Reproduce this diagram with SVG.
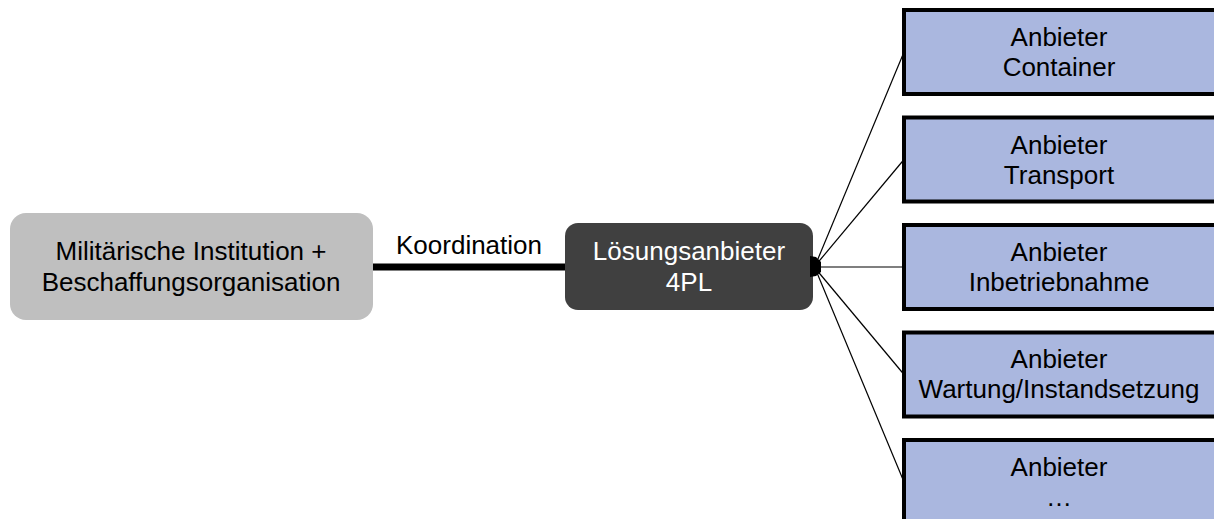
<svg xmlns="http://www.w3.org/2000/svg" width="1214" height="519" viewBox="0 0 1214 519">
<style>
text{font-family:"Liberation Sans",Arial,sans-serif;font-size:26px;text-anchor:middle;fill:#000}
.prov{fill:#AAB7DF;stroke:#000;stroke-width:4}
.fan{stroke:#000;stroke-width:1.2;fill:none}
</style>
<rect width="1214" height="519" fill="#fff"/>
<g id="connectors">
<line x1="373" y1="267" x2="566" y2="267" stroke="#000" stroke-width="7"/>
<text x="469" y="254">Koordination</text>
<line class="fan" x1="815" y1="266" x2="904" y2="52"/>
<line class="fan" x1="815" y1="266" x2="904" y2="159.5"/>
<line class="fan" x1="815" y1="267" x2="904" y2="267"/>
<line class="fan" x1="815" y1="268" x2="904" y2="374.5"/>
<line class="fan" x1="815" y1="268" x2="904" y2="482"/>
</g>
<g id="mil">
<rect x="10" y="213" width="363" height="107" rx="16" fill="#BFBFBF"/>
<text x="191" y="260">Militärische Institution +</text>
<text x="191" y="291">Beschaffungsorganisation</text>
</g>
<g id="lsp">
<rect x="565" y="223" width="248" height="87" rx="13" fill="#404040"/>
<text x="689" y="260" fill="#fff" style="fill:#fff">Lösungsanbieter</text>
<text x="689" y="291" style="fill:#fff">4PL</text>
<path d="M810,256 L816,257 L821,262 L821,272 L816,276 L810,277 Z" fill="#000"/>
</g>
<g id="p1">
<rect class="prov" x="904" y="10" width="330" height="84"/>
<text x="1059" y="46">Anbieter</text>
<text x="1059" y="76">Container</text>
</g>
<g id="p2">
<rect class="prov" x="904" y="117.5" width="330" height="84"/>
<text x="1059" y="153.5">Anbieter</text>
<text x="1059" y="183.5">Transport</text>
</g>
<g id="p3">
<rect class="prov" x="904" y="225" width="330" height="84"/>
<text x="1059" y="261">Anbieter</text>
<text x="1059" y="291">Inbetriebnahme</text>
</g>
<g id="p4">
<rect class="prov" x="904" y="332.5" width="330" height="84"/>
<text x="1059" y="368">Anbieter</text>
<text x="1059" y="398">Wartung/Instandsetzung</text>
</g>
<g id="p5">
<rect class="prov" x="904" y="440" width="330" height="84"/>
<text x="1059" y="476">Anbieter</text>
<text x="1059" y="506">…</text>
</g>
</svg>
